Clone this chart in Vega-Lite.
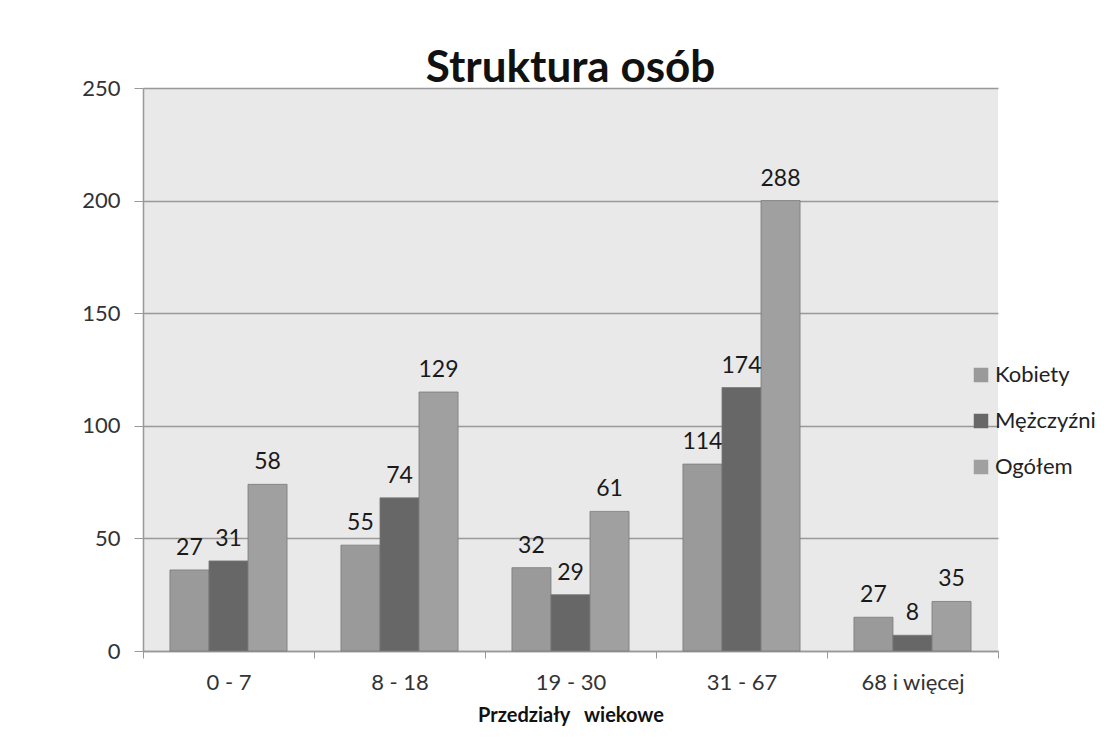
{
  "$schema": "https://vega.github.io/schema/vega-lite/v6.json",
  "width": 855,
  "height": 563,
  "autosize": {"type": "none"},
  "padding": {"left": 143, "top": 88, "right": 120, "bottom": 94},
  "background": "white",
  "title": {
    "text": "Struktura osób",
    "font": "Lato",
    "fontSize": 44,
    "fontWeight": "bold",
    "color": "#111111",
    "anchor": "middle",
    "offset": -14
  },
  "data": {
    "values": [
      {"wiek": "0 - 7", "seria": "Kobiety", "wysokosc": 36, "etykieta": 27},
      {"wiek": "0 - 7", "seria": "Mężczyźni", "wysokosc": 40, "etykieta": 31},
      {"wiek": "0 - 7", "seria": "Ogółem", "wysokosc": 74, "etykieta": 58},
      {"wiek": "8 - 18", "seria": "Kobiety", "wysokosc": 47, "etykieta": 55},
      {"wiek": "8 - 18", "seria": "Mężczyźni", "wysokosc": 68, "etykieta": 74},
      {"wiek": "8 - 18", "seria": "Ogółem", "wysokosc": 115, "etykieta": 129},
      {"wiek": "19 - 30", "seria": "Kobiety", "wysokosc": 37, "etykieta": 32},
      {"wiek": "19 - 30", "seria": "Mężczyźni", "wysokosc": 25, "etykieta": 29},
      {"wiek": "19 - 30", "seria": "Ogółem", "wysokosc": 62, "etykieta": 61},
      {"wiek": "31 - 67", "seria": "Kobiety", "wysokosc": 83, "etykieta": 114},
      {"wiek": "31 - 67", "seria": "Mężczyźni", "wysokosc": 117, "etykieta": 174},
      {"wiek": "31 - 67", "seria": "Ogółem", "wysokosc": 200, "etykieta": 288},
      {"wiek": "68 i więcej", "seria": "Kobiety", "wysokosc": 15, "etykieta": 27},
      {"wiek": "68 i więcej", "seria": "Mężczyźni", "wysokosc": 7, "etykieta": 8},
      {"wiek": "68 i więcej", "seria": "Ogółem", "wysokosc": 22, "etykieta": 35}
    ]
  },
  "encoding": {
    "x": {
      "field": "wiek",
      "type": "nominal",
      "sort": null,
      "scale": {"paddingInner": 0, "paddingOuter": 0},
      "axis": {
        "title": "Przedziały\u00a0\u00a0\u00a0wiekowe",
        "titleFont": "Lato",
        "titleFontSize": 20,
        "titleFontWeight": "bold",
        "titleColor": "#111111",
        "titlePadding": 12,
        "labelAngle": 0,
        "labelFont": "Lato",
        "labelFontSize": 22,
        "labelColor": "#333333",
        "labelPadding": 14,
        "tickBand": "extent",
        "tickSize": 7,
        "tickColor": "#999999",
        "domainColor": "#999999",
        "domainWidth": 1.5,
        "grid": false
      }
    },
    "xOffset": {
      "field": "seria",
      "type": "nominal",
      "sort": ["Kobiety", "Mężczyźni", "Ogółem"],
      "scale": {"paddingInner": 0, "paddingOuter": 0.69}
    },
    "y": {
      "field": "wysokosc",
      "type": "quantitative",
      "scale": {"domain": [0, 250], "nice": false},
      "axis": {
        "title": null,
        "values": [0, 50, 100, 150, 200, 250],
        "labelFont": "Lato",
        "labelFontSize": 22,
        "labelColor": "#333333",
        "labelPadding": 14,
        "tickSize": 9,
        "tickColor": "#999999",
        "domainColor": "#999999",
        "domainWidth": 1.5,
        "gridColor": "#999999",
        "gridWidth": 1.5
      }
    }
  },
  "layer": [
    {
      "mark": {"type": "bar", "stroke": "#7a7a7a", "strokeWidth": 0.8},
      "encoding": {
        "color": {
          "field": "seria",
          "type": "nominal",
          "scale": {
            "domain": ["Kobiety", "Mężczyźni", "Ogółem"],
            "range": ["#9a9a9a", "#676767", "#a0a0a0"]
          },
          "legend": {
            "title": null,
            "orient": "none",
            "legendX": 827,
            "legendY": 276,
            "symbolType": "square",
            "symbolSize": 210,
            "symbolStrokeWidth": 0,
            "labelFont": "Lato",
            "labelFontSize": 22,
            "labelColor": "#222222",
            "labelOffset": 3,
            "rowPadding": 24
          }
        }
      }
    },
    {
      "mark": {
        "type": "text",
        "baseline": "bottom",
        "dy": -10,
        "font": "Lato",
        "fontSize": 23,
        "color": "#1a1a1a"
      },
      "encoding": {
        "text": {"field": "etykieta", "type": "quantitative"}
      }
    }
  ],
  "config": {
    "view": {"fill": "#e9e9e9", "stroke": null}
  }
}
